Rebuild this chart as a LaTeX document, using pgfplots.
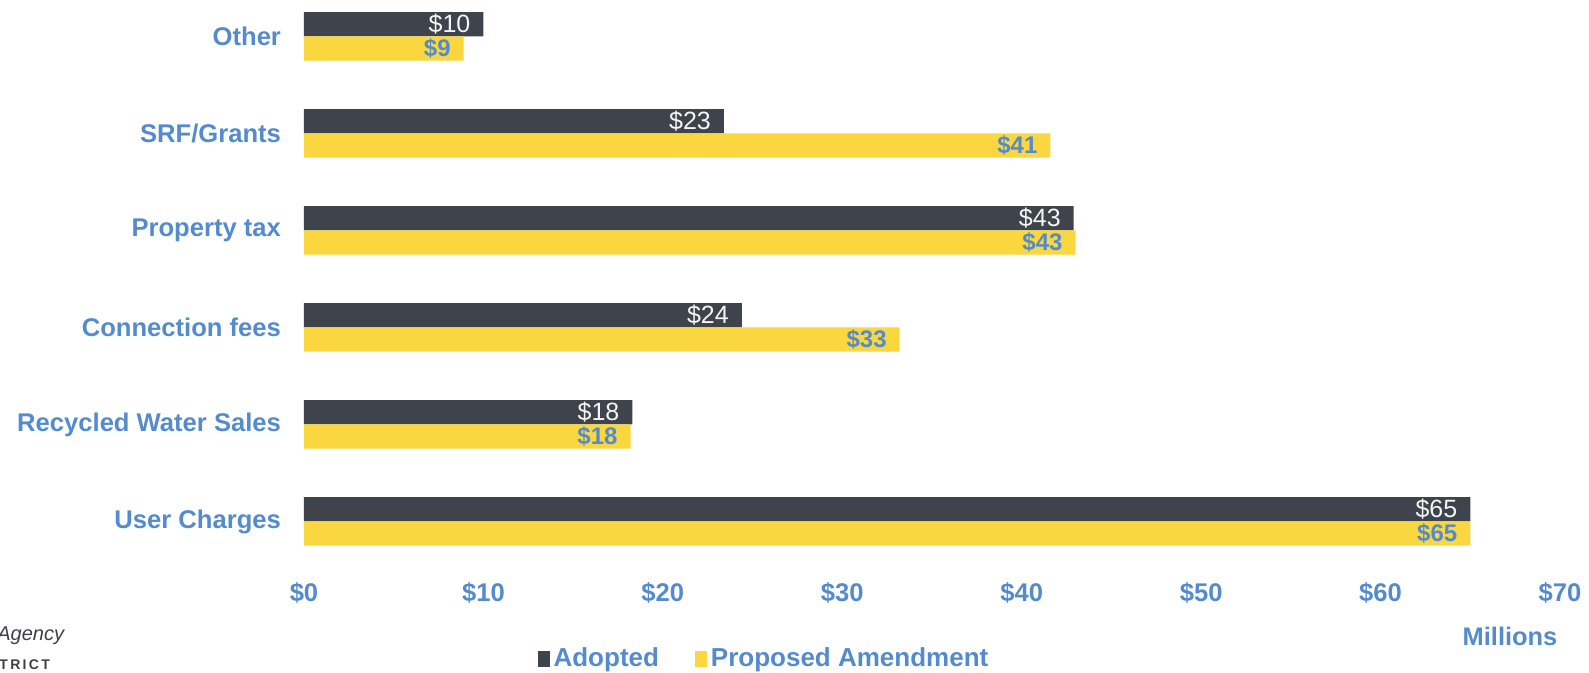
\documentclass[border=0pt]{standalone}
\usepackage{pgfplots}
\pgfplotsset{compat=1.18}
\usepackage{fontspec}
\setmainfont{Liberation Sans}
\definecolor{lblue}{RGB}{84,139,206}
\definecolor{darkbar}{RGB}{62,67,76}
\definecolor{ybarc}{RGB}{250,215,62}
\definecolor{logogray}{RGB}{60,62,72}
\begin{document}
\begin{tikzpicture}
\path[use as bounding box] (-152bp,-51.5bp) rectangle (642.5bp,285bp);
\begin{axis}[
  at={(0,0)}, anchor=south west,
  scale only axis, width=628bp, height=285bp,
  xbar, bar width=0.25,
  xmin=0, xmax=70, ymin=-0.5, ymax=5.376,
  axis line style={draw=none}, tick style={draw=none},
  major tick length=0pt,
  xtick={0,10,20,30,40,50,60,70},
  xticklabels={\$0,\$10,\$20,\$30,\$40,\$50,\$60,\$70},
  ytick={0,1,2,3,4,5},
  yticklabels={User Charges,Recycled Water Sales,Connection fees,Property tax,SRF/Grants,Other},
  ticklabel style={font=\bfseries\fontsize{12.8bp}{15bp}\selectfont, text=lblue},
  xticklabel style={yshift=-2.5bp},
  yticklabel style={xshift=-8bp},
  point meta=explicit symbolic,
  nodes near coords,
  every node near coord/.append style={anchor=east, xshift=-3bp},
  legend columns=2,
  legend image code/.code={\fill[#1,draw=none] (1bp,-3.8bp) rectangle (7bp,3.8bp);},
  legend style={at={(axis description cs:0.367,-0.156)}, anchor=center, draw=none, fill=none,
    font=\bfseries\fontsize{13bp}{15bp}\selectfont, text=lblue,
    /tikz/every even column/.append style={column sep=16bp},
    legend cell align=left, inner sep=0pt},
]
\addplot[fill=darkbar, draw=none, bar shift=0.125,
  every node near coord/.append style={text=white!92!gray, font=\fontsize{12.5bp}{14bp}\selectfont}]
  coordinates {(65.0,0) [\$65] (18.3,1) [\$18] (24.4,2) [\$24] (42.9,3) [\$43] (23.4,4) [\$23] (10.0,5) [\$10]};
\addlegendentry{Adopted}
\addplot[fill=ybarc, draw=none, bar shift=-0.125,
  every node near coord/.append style={text=lblue, font=\bfseries\fontsize{12bp}{14bp}\selectfont}]
  coordinates {(65.0,0) [\$65] (18.2,1) [\$18] (33.2,2) [\$33] (43.0,3) [\$43] (41.6,4) [\$41] (8.9,5) [\$9]};
\addlegendentry{Proposed Amendment}
\end{axis}
\node[font=\bfseries\fontsize{12.7bp}{15bp}\selectfont, text=lblue] at (603bp,-33bp) {Millions};
\node[anchor=west, inner sep=0pt, font=\itshape\fontsize{10bp}{12bp}\selectfont, text=logogray] at (-153.5bp,-33bp) {Agency};
\node[anchor=west, inner sep=0pt, font=\bfseries\fontsize{7bp}{8bp}\selectfont, text=logogray] at (-152.5bp,-47.5bp) {T\,R\,I\,C\,T};
\end{tikzpicture}
\end{document}
